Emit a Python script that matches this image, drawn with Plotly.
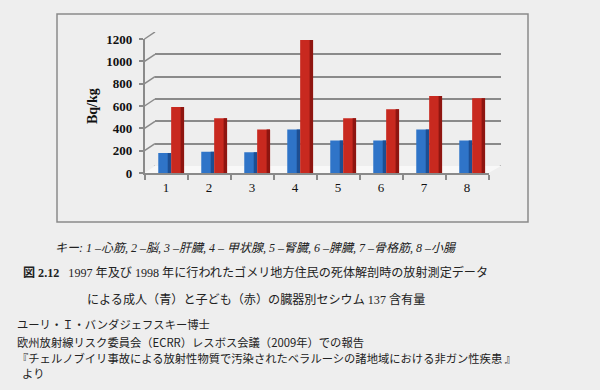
import plotly.graph_objects as go

# ---- data ----
categories = ["1", "2", "3", "4", "5", "6", "7", "8"]
adults = [180, 190, 185, 390, 290, 290, 390, 290]      # blue
children = [590, 490, 390, 1190, 490, 570, 690, 670]  # red
y_ticks = [0, 200, 400, 600, 800, 1000, 1200]
y_title = "Bq/kg"
key_text = "キー: 1 –心筋, 2 –脳, 3 –肝臓, 4 – 甲状腺, 5 –腎臓, 6 –脾臓, 7 –骨格筋, 8 –小腸"
caption1 = "<b>図 2.12</b>   1997 年及び 1998 年に行われたゴメリ地方住民の死体解剖時の放射測定データ"
caption2 = "による成人（青）と子ども（赤）の臓器別セシウム 137 含有量"
source_lines = [
    "ユーリ・Ｉ・バンダジェフスキー博士",
    "欧州放射線リスク委員会（ECRR）レスボス会議（2009年）での報告",
    "『チェルノブイリ事故による放射性物質で汚染されたベラルーシの諸地域における非ガン性疾患 』",
    "  より",
]

W, H = 600, 390
def px(x):
    return x / W
def py(y):
    return 1 - y / H

BG = "#eeeeee"
GRID = "#8a8a8a"
SERIF = "Liberation Serif, Noto Sans CJK JP"
SANS = "Noto Sans CJK JP, sans-serif"

fig = go.Figure()

# back wall (gridlines) on x/y
fig.add_trace(go.Scatter(x=[0.5], y=[0], mode="markers", marker=dict(opacity=0),
                         hoverinfo="skip", showlegend=False, xaxis="x", yaxis="y"))

# bars on front axes x2/y2
bw = 0.3
side = 0.08
fig.add_trace(go.Bar(x=categories, y=adults, width=bw, offset=-0.18,
                     marker=dict(color="#2f74c8", line=dict(width=0)),
                     xaxis="x2", yaxis="y2", showlegend=False))
fig.add_trace(go.Bar(x=categories, y=adults, width=side, offset=-0.18 + bw - side,
                     marker=dict(color="#1d4e92", line=dict(width=0)),
                     xaxis="x2", yaxis="y2", showlegend=False))
fig.add_trace(go.Bar(x=categories, y=children, width=bw, offset=0.12,
                     marker=dict(color="#c8291f", line=dict(width=0)),
                     xaxis="x2", yaxis="y2", showlegend=False))
fig.add_trace(go.Bar(x=categories, y=children, width=side, offset=0.12 + bw - side,
                     marker=dict(color="#8e1510", line=dict(width=0)),
                     xaxis="x2", yaxis="y2", showlegend=False))

front_x0, front_x1 = 144.5, 488.5
front_y0, front_y1 = 173, 39
back_x0, back_x1 = 155, 501
depth = 7

fig.update_layout(
    template="none",
    width=W, height=H, autosize=False,
    margin=dict(l=0, r=0, t=0, b=0, pad=0, autoexpand=False),
    paper_bgcolor=BG, plot_bgcolor="rgba(0,0,0,0)",
    barmode="overlay",
    xaxis=dict(domain=[px(back_x0), px(back_x1)], range=[0, 1], automargin=False,
               showgrid=False, zeroline=False, showline=False, showticklabels=False,
               ticks="", anchor="y", fixedrange=True),
    yaxis=dict(domain=[py(front_y0 - depth), py(front_y1 - depth)], range=[0, 1200],
               tickvals=y_ticks, showgrid=True, gridcolor=GRID, gridwidth=1.5,
               automargin=False,
               zeroline=False, showline=False, showticklabels=False, ticks="",
               anchor="x", fixedrange=True),
    xaxis2=dict(domain=[px(front_x0), px(front_x1)], type="category",
                range=[-0.5, 7.5], anchor="y2", automargin=False,
                showgrid=False, zeroline=False, showline=True, linecolor=GRID, linewidth=1.5,
                ticks="outside", tickson="boundaries", ticklen=5, tickcolor=GRID, tickwidth=1.5,
                ticklabelstandoff=2,
                tickfont=dict(family=SERIF, size=13, color="#111111"), fixedrange=True),
    yaxis2=dict(domain=[py(front_y0), py(front_y1)], range=[0, 1200], anchor="x2",
                tickvals=y_ticks, showgrid=False, zeroline=False, automargin=False,
                showline=True, linecolor=GRID, linewidth=1.5,
                ticks="outside", ticklen=4, tickcolor=GRID, tickwidth=1.5,
                ticklabelstandoff=4,
                tickfont=dict(family=SERIF, size=13, color="#111111", weight="bold"),
                fixedrange=True),
)

shapes = []
# chart frame
shapes.append(dict(type="rect", xref="paper", yref="paper",
                   x0=px(57), x1=px(528), y0=py(222), y1=py(14),
                   line=dict(color="#8a8a8a", width=1.5), fillcolor="rgba(0,0,0,0)", layer="below"))
# floor (light parallelogram)
shapes.append(dict(type="path", xref="paper", yref="paper",
                   path=(f"M {px(front_x0)},{py(front_y0)} L {px(front_x1)},{py(front_y0)} "
                         f"L {px(back_x1)},{py(front_y0 - depth)} L {px(back_x0)},{py(front_y0 - depth)} Z"),
                   fillcolor="#f8f8f8", line=dict(width=0), layer="below"))
# 3D connectors from the front axis to the back wall
off = depth * 1200 / (front_y0 - front_y1)
for v in y_ticks:
    shapes.append(dict(type="line", xref="paper", yref="y",
                       x0=px(front_x0), x1=px(back_x0), y0=v - off, y1=v,
                       line=dict(color=GRID, width=1.5), layer="below"))
# floor right edge
shapes.append(dict(type="line", xref="paper", yref="y",
                   x0=px(front_x1), x1=px(back_x1), y0=-off, y1=0,
                   line=dict(color=GRID, width=1.5), layer="below"))
fig.update_layout(shapes=shapes)

ann = []
ann.append(dict(text=f"<b>{y_title}</b>", xref="paper", yref="paper", x=px(93), y=py(106),
                textangle=-90, showarrow=False, font=dict(family=SERIF, size=14, color="#111"),
                xanchor="center", yanchor="middle"))
ann.append(dict(text=key_text, xref="paper", yref="paper", x=px(256), y=py(248),
                showarrow=False, font=dict(family=SERIF, size=12, color="#222", style="italic"),
                xanchor="center", yanchor="middle"))
ann.append(dict(text=caption1, xref="paper", yref="paper", x=px(21), y=py(272),
                showarrow=False, font=dict(family=SERIF, size=12.1, color="#222"),
                xanchor="left", yanchor="middle"))
ann.append(dict(text=caption2, xref="paper", yref="paper", x=px(256), y=py(300),
                showarrow=False, font=dict(family=SERIF, size=12.1, color="#222"),
                xanchor="center", yanchor="middle"))
for line, yy in zip(source_lines, [324, 342, 358, 373]):
    ann.append(dict(text=line, xref="paper", yref="paper", x=px(15), y=py(yy),
                    showarrow=False, font=dict(family=SANS, size=11.3, color="#222"),
                    xanchor="left", yanchor="middle"))
fig.update_layout(annotations=ann)

fig.write_html("out.html")
